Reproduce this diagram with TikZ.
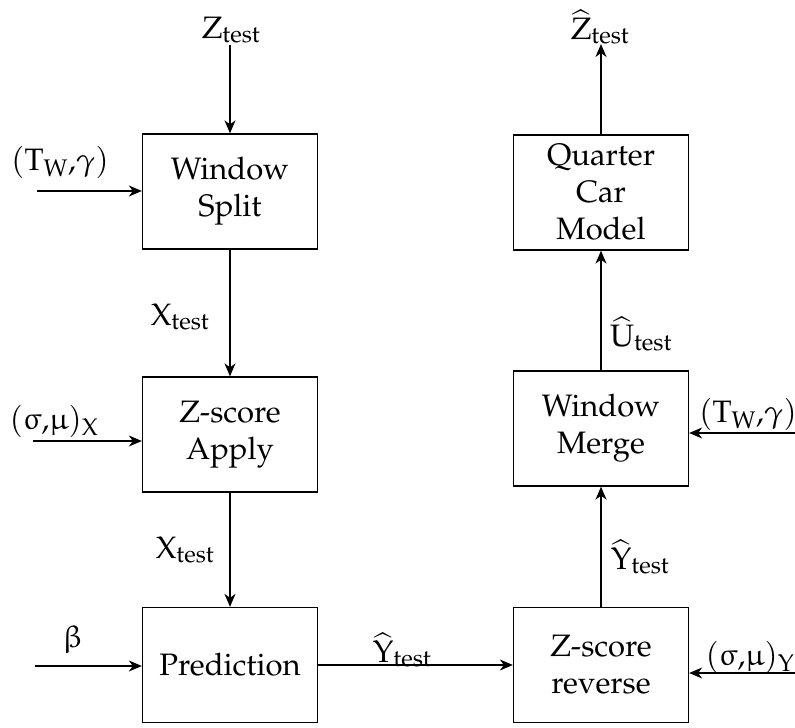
\documentclass[tikz,border=0pt]{standalone}
\usepackage[T1]{fontenc}
\usepackage{mathpazo}
\usepackage{upgreek}
\usetikzlibrary{arrows.meta}
\DeclareMathSizes{31}{31}{24}{19}

\tikzset{
  block/.style={draw, line width=1.3pt, minimum width=175pt, minimum height=115pt,
    align=center, inner sep=0pt},
  lbl/.style={inner sep=0pt},
  flow/.style={line width=1.3pt, -{Stealth[length=13pt,width=11pt,inset=4pt]}}
}
\newcommand{\tst}[1]{\ensuremath{\mathrm{#1}_{\mathrm{test}}}}
\newcommand{\htst}[1]{\ensuremath{\widehat{\mathrm{#1}}_{\mathrm{test}}}}

\begin{document}
\begin{tikzpicture}[x=1pt, y=-1pt,
  every node/.append style={font=\fontsize{31}{37}\selectfont}]
  \useasboundingbox (0,0) rectangle (795,728);

  % processing blocks
  \node[block] (split) at (230,191.5) {Window\\Split};
  \node[block] (apply) at (230,434.5) {Z-score\\Apply};
  \node[block] (pred)  at (230,665)   {Prediction};
  \node[block] (rev)   at (601,665)   {Z-score\\reverse};
  \node[block] (merge) at (601,428.5) {Window\\Merge};
  \node[block] (qcm)   at (601,192.5) {Quarter\\Car\\Model};

  % free ends of the external signals
  \coordinate (zin)  at (230,45);
  \coordinate (zout) at (601,44);
  \coordinate (tw1)  at (37,191);
  \coordinate (sx)   at (33,441);
  \coordinate (bt)   at (35,666);
  \coordinate (tw2)  at (795,433);
  \coordinate (sy)   at (795,673);

  % signal labels
  \node[lbl] (lz)   at (231,30)  {\tst{Z}};
  \node[lbl] (lzh)  at (600,27)  {\htst{Z}};
  \node[lbl] (ltw1) at (60,162)  {$(\mathrm{T}_{\mathrm{W}}{,}\gamma)$};
  \node[lbl] (lsx)  at (54,421)  {$(\upsigma{,}\upmu)_{\mathrm{X}}$};
  \node[lbl] (lb)   at (73,640)  {$\upbeta$};
  \node[lbl] (lx1)  at (180,317) {\tst{X}};
  \node[lbl] (lx2)  at (185,550) {\tst{X}};
  \node[lbl] (ly1)  at (402,650) {\htst{Y}};
  \node[lbl] (ly2)  at (640,557) {\htst{Y}};
  \node[lbl] (lu)   at (641,334) {\htst{U}};
  \node[lbl] (ltw2) at (748,414) {$(\mathrm{T}_{\mathrm{W}}{,}\gamma)$};
  \node[lbl] (lsy)  at (750,657) {$(\upsigma{,}\upmu)_{\mathrm{Y}}$};

  % connectors
  \draw[flow] (zin) -- (split.north);
  \draw[flow] (tw1) -- (tw1 -| split.west);
  \draw[flow] (split.south) -- (apply.north);
  \draw[flow] (sx) -- (sx -| apply.west);
  \draw[flow] (apply.south) -- (pred.north);
  \draw[flow] (bt) -- (bt -| pred.west);
  \draw[flow] (pred.east) -- (rev.west);
  \draw[flow] (sy) -- (sy -| rev.east);
  \draw[flow] (rev.north) -- (merge.south);
  \draw[flow] (tw2) -- (tw2 -| merge.east);
  \draw[flow] (merge.north) -- (qcm.south);
  \draw[flow] (qcm.north) -- (zout);
\end{tikzpicture}
\end{document}
